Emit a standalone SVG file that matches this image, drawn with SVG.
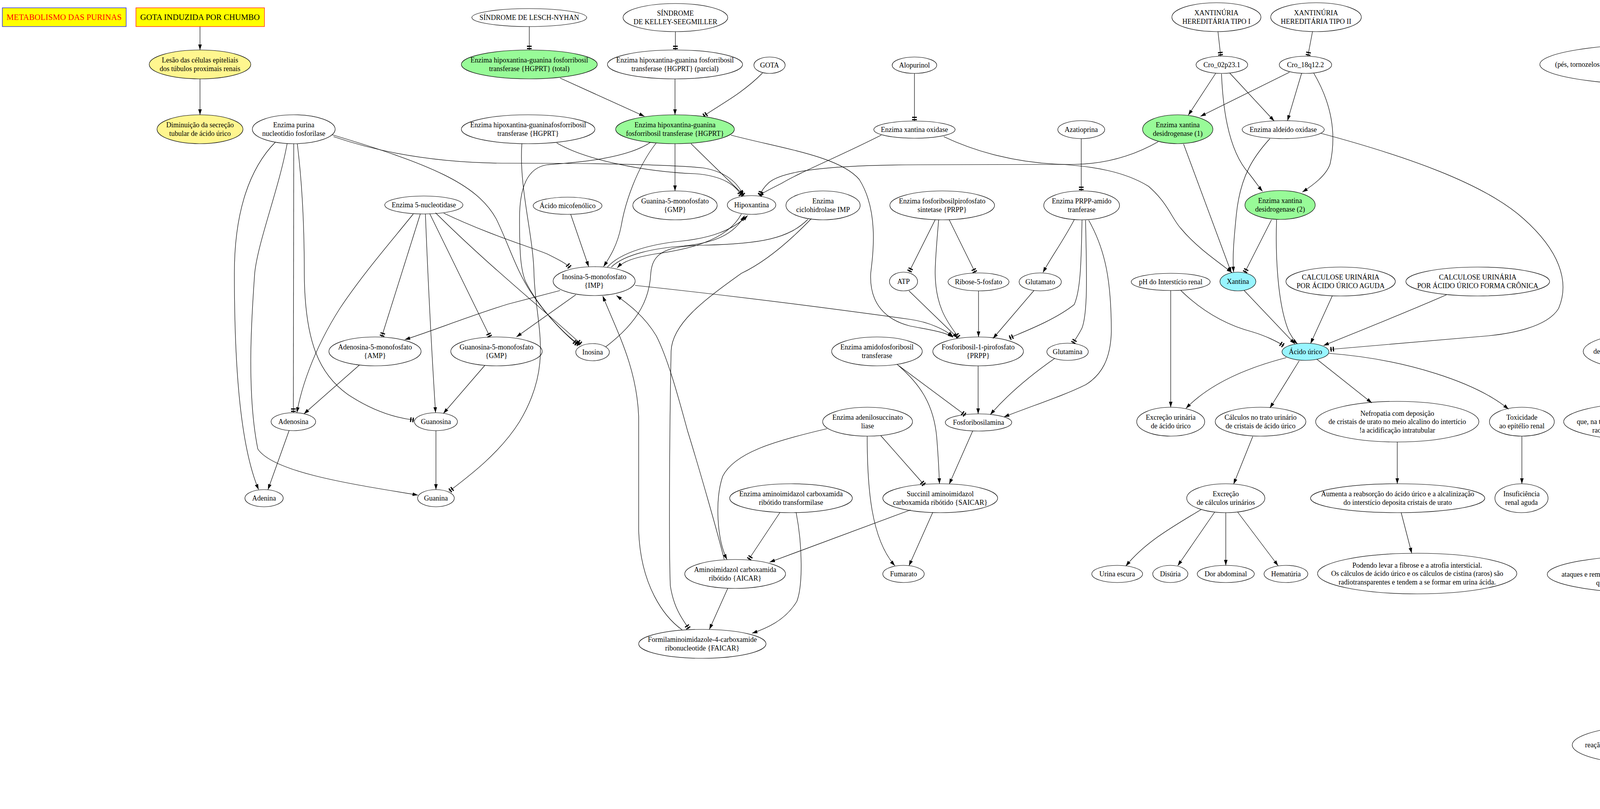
<svg xmlns="http://www.w3.org/2000/svg" width="7625" height="2072" viewBox="0 0 7625 2072">
<style>
text{font-family:"Liberation Serif","Times New Roman",serif;font-size:18px;text-anchor:middle;fill:#000}
ellipse{fill:none;stroke:#000;stroke-width:1.2}
ellipse.k{fill:#FFF68F}
ellipse.g{fill:#98FB98}
ellipse.c{fill:#98F5FF}
#edges path{fill:none;stroke:#000;stroke-width:1.2}
.a{marker-end:url(#arr)}
.t{marker-end:url(#tee)}
.box{font-size:21px}
</style>
<defs>
<marker id="arr" markerUnits="userSpaceOnUse" markerWidth="14" markerHeight="10" refX="14" refY="5" orient="auto"><path d="M0,0.5 L14,5 L0,9.5 z" fill="#000"/></marker>
<marker id="tee" markerUnits="userSpaceOnUse" markerWidth="12" markerHeight="14" refX="12" refY="7" orient="auto"><path d="M1,1 h3 v12 h-3 z M7,1 h3 v12 h-3 z" fill="#000"/></marker>
</defs>
<rect width="7625" height="2072" fill="#fff"/>
<g id="edges">
<path class="a" d="M512,68 L512,128"/>
<path class="a" d="M512,202 L512,294"/>
<path class="a" d="M705,364 C640,430 600,540 600,700 C600,900 610,1130 662,1254"/>
<path class="a" d="M735,368 C715,480 660,620 652,700 C645,800 630,1000 660,1150 C700,1210 900,1240 1070,1268"/>
<path class="t" d="M752,368 L751,1057"/>
<path class="t" d="M761,368 C775,480 779,600 779,700 C780,880 820,960 890,1010 C950,1050 1010,1070 1061,1076"/>
<path class="a" d="M854,350 C1000,400 1150,418 1300,418 C1500,418 1700,420 1800,430 C1860,440 1890,470 1903,501"/>
<path class="t" d="M850,345 C1100,420 1220,470 1270,560 C1300,620 1320,690 1360,750 C1400,810 1450,860 1483,883"/>
<path class="a" d="M1058,548 C1000,620 930,700 870,790 C800,900 770,1000 760,1057"/>
<path class="t" d="M1076,548 L977,863"/>
<path class="a" d="M1089,548 C1095,700 1105,900 1115,1057"/>
<path class="t" d="M1100,547 L1255,864"/>
<path class="t" d="M1115,545 C1250,680 1400,800 1488,882"/>
<path class="t" d="M1136,546 C1250,600 1350,630 1400,650 C1430,665 1450,675 1460,686"/>
<path class="a" d="M1434,744 L1300,779 C1200,810 1100,850 1036,870"/>
<path class="a" d="M1474,755 L1322,863"/>
<path class="a" d="M920,935 L778,1060"/>
<path class="a" d="M1241,936 L1135,1059"/>
<path class="a" d="M740,1103 L686,1254"/>
<path class="a" d="M1116,1103 L1116,1254"/>
<path class="t" d="M1336,368 C1328,480 1365,600 1367,700 C1370,830 1420,930 1330,1080 C1280,1160 1200,1220 1150,1258"/>
<path class="t" d="M1425,366 C1500,410 1650,440 1780,445 C1850,450 1885,475 1898,502"/>
<path class="t" d="M1666,364 C1600,410 1450,418 1400,422 C1350,430 1330,480 1330,560 C1330,650 1333,690 1345,720 C1380,790 1440,850 1478,882"/>
<path class="t" d="M1355,68 L1355,128"/>
<path class="t" d="M1729,81 L1729,128"/>
<path class="a" d="M1434,200 L1650,298"/>
<path class="a" d="M1728,202 L1728,294"/>
<path class="t" d="M1952,187 C1900,240 1840,270 1800,298"/>
<path class="a" d="M1728,368 L1728,489"/>
<path class="t" d="M1769,368 L1905,501"/>
<path class="a" d="M1680,366 C1630,430 1600,520 1590,580 C1580,630 1560,660 1545,683"/>
<path class="a" d="M1871,346 C2000,380 2150,400 2200,460 C2250,540 2235,650 2229,700 C2225,780 2270,820 2330,835 C2380,845 2420,850 2440,864"/>
<path class="a" d="M1461,549 L1507,683"/>
<path class="a" d="M1898,548 C1860,620 1750,640 1680,650 C1620,660 1595,670 1580,686"/>
<path class="a" d="M1565,684 C1600,650 1680,635 1750,630 C1830,622 1880,600 1906,552"/>
<path class="a" d="M1555,684 C1590,645 1670,625 1740,618 C1820,610 1875,590 1914,552"/>
<path d="M2068,562 C2020,610 1950,625 1800,628 C1700,630 1670,650 1666,700 C1663,760 1640,820 1551,888"/>
<path class="t" d="M2077,560 C2000,640 1940,680 1898,700 C1800,770 1720,830 1718,900 C1714,1100 1712,1400 1716,1500 C1725,1560 1750,1590 1764,1611"/>
<path class="t" d="M2256,346 C2150,400 2050,440 2000,470 C1970,485 1950,495 1943,501"/>
<path class="a" d="M2416,350 C2500,390 2600,415 2700,420 C2800,425 2880,440 2940,477 C2990,520 3000,560 3023,585 C3060,630 3110,665 3154,698"/>
<path class="t" d="M2965,363 C2900,400 2830,420 2750,421 L2350,422 C2100,423 2000,440 1968,468 C1955,480 1948,492 1945,501"/>
<path class="a" d="M3030,369 L3152,698"/>
<path class="t" d="M3255,563 L3186,699"/>
<path class="a" d="M3251,355 C3210,400 3175,450 3165,550 C3158,620 3155,660 3158,697"/>
<path class="t" d="M3380,341 C3600,400 3800,470 3900,560 C3990,640 4020,720 3990,790 C3960,840 3860,855 3811,860 L3404,895"/>
<path class="a" d="M3112,188 L3042,295"/>
<path class="a" d="M3148,187 L3262,310"/>
<path class="a" d="M3127,189 C3130,260 3140,380 3197,444 C3210,460 3222,478 3232,490"/>
<path class="a" d="M3301,185 L3073,298"/>
<path class="a" d="M3332,188 L3296,309"/>
<path class="a" d="M3363,187 C3400,250 3425,330 3405,420 C3395,450 3360,475 3334,492"/>
<path class="t" d="M3118,81 L3125,144"/>
<path class="t" d="M3360,81 L3348,144"/>
<path class="a" d="M3185,744 L3315,881"/>
<path class="a" d="M3268,563 C3265,650 3270,780 3300,850 C3310,868 3316,876 3322,881"/>
<path class="a" d="M3411,757 L3355,880"/>
<path class="a" d="M3703,755 C3600,800 3500,840 3388,885"/>
<path class="a" d="M2997,744 L2997,1043"/>
<path class="t" d="M3023,744 C3070,790 3130,830 3206,850 C3240,860 3270,875 3287,886"/>
<path class="a" d="M3293,916 C3200,940 3100,980 3036,1046"/>
<path class="a" d="M3326,924 L3251,1045"/>
<path class="a" d="M3371,920 L3512,1032"/>
<path class="a" d="M3402,905 C3600,920 3780,980 3862,1048"/>
<path class="a" d="M3207,1118 L3158,1240"/>
<path class="a" d="M3075,1305 C3000,1350 2930,1390 2882,1450"/>
<path class="a" d="M3110,1311 L3015,1449"/>
<path class="a" d="M3138,1313 L3138,1448"/>
<path class="a" d="M3168,1311 L3272,1449"/>
<path class="a" d="M3577,1132 L3577,1239"/>
<path class="a" d="M3587,1313 L3614,1417"/>
<path class="a" d="M3896,1117 L3896,1239"/>
<path class="t" d="M2341,188 L2341,310"/>
<path class="t" d="M2768,355 L2768,489"/>
<path class="a" d="M2750,563 C2720,620 2690,660 2670,698"/>
<path class="t" d="M2770,563 C2768,650 2768,740 2750,780 C2700,820 2620,850 2583,866"/>
<path class="t" d="M2779,564 C2782,700 2785,800 2770,840 C2760,860 2752,870 2746,880"/>
<path class="a" d="M2787,564 C2830,640 2845,720 2845,850 C2843,920 2820,960 2780,985 C2720,1015 2640,1040 2570,1068"/>
<path class="a" d="M2700,918 C2640,960 2580,1010 2535,1062"/>
<path class="a" d="M2327,745 L2452,866"/>
<path class="a" d="M2505,745 L2505,863"/>
<path class="a" d="M2647,744 L2542,867"/>
<path class="t" d="M2403,563 C2398,620 2394,680 2394,700 C2395,780 2420,820 2455,865"/>
<path class="t" d="M2394,563 L2327,697"/>
<path class="t" d="M2430,563 L2497,699"/>
<path class="a" d="M2504,937 L2504,1060"/>
<path class="t" d="M2296,933 L2472,1064"/>
<path class="a" d="M2300,936 C2350,980 2390,1030 2398,1120 C2402,1170 2404,1210 2405,1239"/>
<path class="a" d="M2490,1104 L2430,1240"/>
<path class="t" d="M2255,1116 L2367,1243"/>
<path class="a" d="M2220,1117 C2220,1250 2230,1380 2291,1449"/>
<path class="a" d="M2117,1098 C1980,1130 1880,1160 1850,1220 C1830,1280 1835,1380 1861,1433"/>
<path class="a" d="M2331,1306 L1970,1440"/>
<path class="a" d="M2388,1312 L2327,1449"/>
<path class="t" d="M1997,1312 L1916,1434"/>
<path class="a" d="M2038,1312 C2055,1400 2055,1500 2040,1540 C2010,1590 1960,1610 1925,1622"/>
<path class="a" d="M1863,1507 L1816,1612"/>
<path class="a" d="M1746,1613 C1700,1580 1640,1500 1635,1360 L1635,1067 C1630,940 1580,850 1543,758"/>
<path class="a" d="M1854,1433 C1836,1360 1790,1200 1760,1103 C1740,1030 1711,920 1680,860 C1650,810 1610,780 1578,757"/>
<path class="a" d="M1626,731 C1900,760 2200,800 2330,818 C2380,825 2420,845 2440,862"/>
<path class="a" d="M4268,81 L4268,112"/>
<path class="a" d="M4268,218 L4268,292"/>
<path class="a" d="M4268,368 L4268,489"/>
<path class="a" d="M4268,563 L4268,683"/>
<path class="a" d="M4268,757 L4268,847"/>
<path class="a" d="M4268,953 L4268,1028"/>
<path class="a" d="M4268,1132 L4268,1240"/>
<path class="a" d="M4268,1314 L4268,1421"/>
<path class="a" d="M4268,1521 L4268,1612"/>
<path class="a" d="M4268,1686 L4268,1749"/>
<path class="a" d="M4268,1823 L4268,1855"/>
<path class="a" d="M4268,1961 L4268,1997"/>
<path class="a" d="M5557,66 L5557,113"/>
<path class="a" d="M5557,217 L5557,248"/>
<path class="a" d="M5557,414 L5557,444"/>
<path class="a" d="M5557,608 L5557,638"/>
<path class="a" d="M5557,802 L5557,833"/>
<path class="a" d="M5557,967 L5557,998"/>
<path class="a" d="M5557,1162 L5557,1193"/>
<path class="a" d="M5557,1359 L5557,1387"/>
<path class="a" d="M5557,1553 L5557,1582"/>
<path class="a" d="M6341,68 L6341,143"/>
<path class="a" d="M6339,189 L6332,311"/>
<path class="a" d="M6315,354 L6222,505"/>
<path class="a" d="M6330,355 L6330,505"/>
<path class="t" d="M6117,203 L6120,311"/>
<path class="t" d="M6131,354 L6190,506"/>
<path class="a" d="M6124,355 L6158,700"/>
<path class="a" d="M6195,549 L6168,700"/>
<path class="a" d="M6620,68 L6620,129"/>
<path class="a" d="M6620,203 L6620,294"/>
<path class="a" d="M6620,368 L6620,489"/>
<path class="a" d="M6620,563 L6620,684"/>
<path class="t" d="M6913,68 L6913,129"/>
<path class="a" d="M7340,67 L7266,130"/>
<path class="a" d="M7397,67 L7476,131"/>
</g>
<g id="n_metab"><rect x="6" y="20" width="317" height="48" fill="#FFFF00" stroke="#0000FF" stroke-width="1.2"/><text class="box" x="164" y="51" style="fill:#FF0000">METABOLISMO DAS PURINAS</text></g>
<g id="n_chumbo"><rect x="348" y="20" width="329" height="48" fill="#FFFF00" stroke="#FF0000" stroke-width="1.2"/><text class="box" x="512" y="51">GOTA INDUZIDA POR CHUMBO</text></g>
<g id="n_lesao"><ellipse class="k" cx="512" cy="165" rx="130" ry="37"/><text x="512" y="160">Lesão das células epiteliais</text><text x="512" y="182">dos túbulos proximais renais</text></g>
<g id="n_dimin"><ellipse class="k" cx="512" cy="331" rx="110" ry="37"/><text x="512" y="326">Diminuição da secreção</text><text x="512" y="348">tubular de ácido úrico</text></g>
<g id="n_pnp"><ellipse cx="752" cy="331" rx="106" ry="37"/><text x="752" y="326">Enzima purina</text><text x="752" y="348">nucleotídio fosforilase</text></g>
<g id="n_lesch"><ellipse cx="1355" cy="45" rx="147" ry="23"/><text x="1355" y="51">SÍNDROME DE LESCH-NYHAN</text></g>
<g id="n_kelley"><ellipse cx="1729" cy="45" rx="134" ry="36"/><text x="1729" y="40">SÍNDROME</text><text x="1729" y="62">DE KELLEY-SEEGMILLER</text></g>
<g id="n_hgtot"><ellipse class="g" cx="1355" cy="165" rx="174" ry="37"/><text x="1355" y="160">Enzima hipoxantina-guanina fosforribosil</text><text x="1355" y="182">transferase {HGPRT} (total)</text></g>
<g id="n_hgpar"><ellipse cx="1728" cy="165" rx="173" ry="37"/><text x="1728" y="160">Enzima hipoxantina-guanina fosforribosil</text><text x="1728" y="182">transferase {HGPRT} (parcial)</text></g>
<g id="n_gota"><ellipse cx="1970" cy="167" rx="40" ry="21"/><text x="1970" y="173">GOTA</text></g>
<g id="n_hgw"><ellipse cx="1352" cy="331" rx="171" ry="37"/><text x="1352" y="326">Enzima hipoxantina-guaninafosforribosil</text><text x="1352" y="348">transferase {HGPRT}</text></g>
<g id="n_hgg"><ellipse class="g" cx="1728" cy="331" rx="152" ry="37"/><text x="1728" y="326">Enzima hipoxantina-guanina</text><text x="1728" y="348">fosforribosil transferase {HGPRT}</text></g>
<g id="n_alop"><ellipse cx="2341" cy="167" rx="57" ry="21"/><text x="2341" y="173">Alopurinol</text></g>
<g id="n_xo"><ellipse cx="2341" cy="332" rx="104" ry="22"/><text x="2341" y="338">Enzima xantina oxidase</text></g>
<g id="n_nt5"><ellipse cx="1085" cy="525" rx="100" ry="23"/><text x="1085" y="531">Enzima 5-nucleotidase</text></g>
<g id="n_micof"><ellipse cx="1453" cy="527" rx="88" ry="22"/><text x="1453" y="533">Ácido micofenólico</text></g>
<g id="n_gmp2"><ellipse cx="1728" cy="526" rx="108" ry="37"/><text x="1728" y="521">Guanina-5-monofosfato</text><text x="1728" y="543">{GMP}</text></g>
<g id="n_hipo"><ellipse cx="1924" cy="525" rx="62" ry="24"/><text x="1924" y="531">Hipoxantina</text></g>
<g id="n_ciclo"><ellipse cx="2107" cy="526" rx="95" ry="37"/><text x="2107" y="521">Enzima</text><text x="2107" y="543">ciclohidrolase IMP</text></g>
<g id="n_prpps"><ellipse cx="2412" cy="526" rx="134" ry="37"/><text x="2412" y="521">Enzima fosforibosilpirofosfato</text><text x="2412" y="543">sintetase {PRPP}</text></g>
<g id="n_prppa"><ellipse cx="2769" cy="526" rx="97" ry="37"/><text x="2769" y="521">Enzima PRPP-amido</text><text x="2769" y="543">tranferase</text></g>
<g id="n_azat"><ellipse cx="2768" cy="332" rx="60" ry="23"/><text x="2768" y="338">Azatioprina</text></g>
<g id="n_imp"><ellipse cx="1521" cy="720" rx="105" ry="37"/><text x="1521" y="715">Inosina-5-monofosfato</text><text x="1521" y="737">{IMP}</text></g>
<g id="n_atp"><ellipse cx="2313" cy="721" rx="36" ry="24"/><text x="2313" y="727">ATP</text></g>
<g id="n_rib"><ellipse cx="2505" cy="722" rx="78" ry="23"/><text x="2505" y="728">Ribose-5-fosfato</text></g>
<g id="n_glt"><ellipse cx="2663" cy="722" rx="54" ry="23"/><text x="2663" y="728">Glutamato</text></g>
<g id="n_amp"><ellipse cx="960" cy="900" rx="118" ry="37"/><text x="960" y="895">Adenosina-5-monofosfato</text><text x="960" y="917">{AMP}</text></g>
<g id="n_gmp"><ellipse cx="1271" cy="900" rx="117" ry="37"/><text x="1271" y="895">Guanosina-5-monofosfato</text><text x="1271" y="917">{GMP}</text></g>
<g id="n_ino"><ellipse cx="1517" cy="902" rx="43" ry="22"/><text x="1517" y="908">Inosina</text></g>
<g id="n_amido"><ellipse cx="2245" cy="900" rx="116" ry="37"/><text x="2245" y="895">Enzima amidofosforibosil</text><text x="2245" y="917">transferase</text></g>
<g id="n_prpp"><ellipse cx="2504" cy="900" rx="116" ry="37"/><text x="2504" y="895">Fosforibosil-1-pirofosfato</text><text x="2504" y="917">{PRPP}</text></g>
<g id="n_glm"><ellipse cx="2733" cy="901" rx="53" ry="22"/><text x="2733" y="907">Glutamina</text></g>
<g id="n_adeo"><ellipse cx="751" cy="1080" rx="57" ry="23"/><text x="751" y="1086">Adenosina</text></g>
<g id="n_guao"><ellipse cx="1116" cy="1080" rx="55" ry="23"/><text x="1116" y="1086">Guanosina</text></g>
<g id="n_adsl"><ellipse cx="2221" cy="1080" rx="115" ry="37"/><text x="2221" y="1075">Enzima adenilosuccinato</text><text x="2221" y="1097">liase</text></g>
<g id="n_pra"><ellipse cx="2505" cy="1082" rx="85" ry="22"/><text x="2505" y="1088">Fosforibosilamina</text></g>
<g id="n_adea"><ellipse cx="676" cy="1276" rx="49" ry="22"/><text x="676" y="1282">Adenina</text></g>
<g id="n_guaa"><ellipse cx="1116" cy="1276" rx="47" ry="22"/><text x="1116" y="1282">Guanina</text></g>
<g id="n_atic"><ellipse cx="2025" cy="1276" rx="157" ry="37"/><text x="2025" y="1271">Enzima aminoimidazol carboxamida</text><text x="2025" y="1293">ribótido transformilase</text></g>
<g id="n_saicar"><ellipse cx="2407" cy="1276" rx="147" ry="37"/><text x="2407" y="1271">Succinil aminoimidazol</text><text x="2407" y="1293">carboxamida ribótido {SAICAR}</text></g>
<g id="n_aicar"><ellipse cx="1882" cy="1470" rx="129" ry="37"/><text x="1882" y="1465">Aminoimidazol carboxamida</text><text x="1882" y="1487">ribótido {AICAR}</text></g>
<g id="n_fum"><ellipse cx="2313" cy="1470" rx="53" ry="22"/><text x="2313" y="1476">Fumarato</text></g>
<g id="n_faicar"><ellipse cx="1798" cy="1649" rx="163" ry="37"/><text x="1798" y="1644">Formilaminoimidazole-4-carboxamide</text><text x="1798" y="1666">ribonucleotide {FAICAR}</text></g>
<g id="n_xan1"><ellipse cx="3114" cy="44" rx="114" ry="37"/><text x="3114" y="39">XANTINÚRIA</text><text x="3114" y="61">HEREDITÁRIA TIPO I</text></g>
<g id="n_xan2"><ellipse cx="3369" cy="44" rx="116" ry="37"/><text x="3369" y="39">XANTINÚRIA</text><text x="3369" y="61">HEREDITÁRIA TIPO II</text></g>
<g id="n_cro1"><ellipse cx="3128" cy="166" rx="66" ry="22"/><text x="3128" y="172">Cro_02p23.1</text></g>
<g id="n_cro2"><ellipse cx="3342" cy="166" rx="67" ry="22"/><text x="3342" y="172">Cro_18q12.2</text></g>
<g id="n_xdh1"><ellipse class="g" cx="3015" cy="331" rx="90" ry="37"/><text x="3015" y="326">Enzima xantina</text><text x="3015" y="348">desidrogenase (1)</text></g>
<g id="n_ao"><ellipse cx="3285" cy="332" rx="105" ry="23"/><text x="3285" y="338">Enzima aldeído oxidase</text></g>
<g id="n_xdh2"><ellipse class="g" cx="3277" cy="525" rx="90" ry="37"/><text x="3277" y="520">Enzima xantina</text><text x="3277" y="542">desidrogenase (2)</text></g>
<g id="n_xant"><ellipse class="c" cx="3169" cy="721" rx="46" ry="24"/><text x="3169" y="727">Xantina</text></g>
<g id="n_ph"><ellipse cx="2997" cy="722" rx="101" ry="22"/><text x="2997" y="728">pH do Interstício renal</text></g>
<g id="n_calc1"><ellipse cx="3432" cy="721" rx="140" ry="37"/><text x="3432" y="716">CALCULOSE URINÁRIA</text><text x="3432" y="738">POR ÁCIDO ÚRICO AGUDA</text></g>
<g id="n_calc2"><ellipse cx="3783" cy="721" rx="184" ry="37"/><text x="3783" y="716">CALCULOSE URINÁRIA</text><text x="3783" y="738">POR ÁCIDO ÚRICO FORMA CRÔNICA</text></g>
<g id="n_au"><ellipse class="c" cx="3342" cy="901" rx="60" ry="22"/><text x="3342" y="907">Ácido úrico</text></g>
<g id="n_exu"><ellipse cx="2997" cy="1080" rx="87" ry="37"/><text x="2997" y="1075">Excreção urinária</text><text x="2997" y="1097">de ácido úrico</text></g>
<g id="n_calt"><ellipse cx="3227" cy="1080" rx="116" ry="37"/><text x="3227" y="1075">Cálculos no trato urinário</text><text x="3227" y="1097">de cristais de ácido úrico</text></g>
<g id="n_nef"><ellipse cx="3577" cy="1080" rx="209" ry="52"/><text x="3577" y="1064.5">Nefropatia com deposição</text><text x="3577" y="1086">de cristais de urato no meio alcalino do intertício</text><text x="3577" y="1107.5">!a acidificação intratubular</text></g>
<g id="n_tox"><ellipse cx="3896" cy="1080" rx="83" ry="37"/><text x="3896" y="1075">Toxicidade</text><text x="3896" y="1097">ao epitélio renal</text></g>
<g id="n_exc"><ellipse cx="3138" cy="1276" rx="100" ry="37"/><text x="3138" y="1271">Excreção</text><text x="3138" y="1293">de cálculos urinários</text></g>
<g id="n_aum"><ellipse cx="3578" cy="1276" rx="223" ry="37"/><text x="3578" y="1271">Aumenta a reabsorção do ácido úrico e a alcalinização</text><text x="3578" y="1293">do interstício deposita cristais de urato</text></g>
<g id="n_ins"><ellipse cx="3895" cy="1276" rx="68" ry="37"/><text x="3895" y="1271">Insuficiência</text><text x="3895" y="1293">renal aguda</text></g>
<g id="n_uri"><ellipse cx="2860" cy="1470" rx="65" ry="22"/><text x="2860" y="1476">Urina escura</text></g>
<g id="n_dis"><ellipse cx="2996" cy="1470" rx="45" ry="22"/><text x="2996" y="1476">Disúria</text></g>
<g id="n_dor"><ellipse cx="3138" cy="1470" rx="73" ry="22"/><text x="3138" y="1476">Dor abdominal</text></g>
<g id="n_hem"><ellipse cx="3292" cy="1470" rx="56" ry="22"/><text x="3292" y="1476">Hematúria</text></g>
<g id="n_pod"><ellipse cx="3628" cy="1469" rx="255" ry="52"/><text x="3628" y="1453.5">Podendo levar a fibrose e a atrofia intersticial.</text><text x="3628" y="1475">Os cálculos de ácido úrico e os cálculos de cistina (raros) são</text><text x="3628" y="1496.5">radiotransparentes e tendem a se formar em urina ácida.</text></g>
<g id="n_hg2"><ellipse cx="4268" cy="45" rx="151" ry="36"/><text x="4268" y="40">Enzima hipoxantina-guanina</text><text x="4268" y="62">fosforribosiltransferase {HGPRT}</text></g>
<g id="n_hapref"><ellipse cx="4268" cy="165" rx="326" ry="53"/><text x="4268" y="149.5">Há preferência por articulações distais</text><text x="4268" y="171">(pés, tornozelos, joelhos, mãos, punhos, cotovelos) devido à menor temperatura</text><text x="4268" y="192.5">destas (facilita precipitação dos cristais)</text></g>
<g id="n_depos"><ellipse cx="4268" cy="330" rx="128" ry="38"/><text x="4268" y="325">Depósitos tofáceos</text><text x="4268" y="347">de cristais de urato de sódio</text></g>
<g id="n_reac"><ellipse cx="4268" cy="526" rx="98" ry="37"/><text x="4268" y="521">Reação inflamatória</text><text x="4268" y="543">granulomatosa</text></g>
<g id="n_destr"><ellipse cx="4268" cy="720" rx="110" ry="37"/><text x="4268" y="715">Destruição</text><text x="4268" y="737">e deformidade articular</text></g>
<g id="n_precip"><ellipse cx="4268" cy="900" rx="215" ry="53"/><text x="4268" y="884.5">Precipitação de cristais</text><text x="4268" y="906">de urato no líquido sinovial e tecidos periarticulares,</text><text x="4268" y="927.5">na vigência de hiperuricemia</text></g>
<g id="n_cristais"><ellipse cx="4268" cy="1080" rx="265" ry="52"/><text x="4268" y="1064.5">Os cristais provocam afluxo de neutrófilos</text><text x="4268" y="1086">que, na tentativa de fagocitá-los, liberam enzimas proteolíticas e</text><text x="4268" y="1107.5">radicais livres, dando origem aos sinais inflamatórios</text></g>
<g id="n_tambem"><ellipse cx="4268" cy="1277" rx="98" ry="37"/><text x="4268" y="1272">Também há ativação</text><text x="4268" y="1294">do complemento</text></g>
<g id="n_nagota"><ellipse cx="4268" cy="1471" rx="307" ry="50"/><text x="4268" y="1455.5">Na gota crônica, com o tempo, após vários</text><text x="4268" y="1477">ataques e remissões, vão-se formando depósitos de uratos, chamados tofos,</text><text x="4268" y="1498.5">que não são acompanhados de sinais inflamatórios</text></g>
<g id="n_grad"><ellipse cx="4268" cy="1649" rx="170" ry="37"/><text x="4268" y="1644">Gradualmente vão lesando as superfícies</text><text x="4268" y="1666">articulares, dando dor e rigidez</text></g>
<g id="n_artic"><ellipse cx="4268" cy="1786" rx="165" ry="37"/><text x="4268" y="1781">As articulações mais acometidas</text><text x="4268" y="1803">são as distais, e a cartilagem auricular</text></g>
<g id="n_micro"><ellipse cx="4268" cy="1908" rx="243" ry="53"/><text x="4268" y="1892.5">Microscopicamente, observa-se</text><text x="4268" y="1914">reação inflamatória crônica inespecífica ou granulomatosa</text><text x="4268" y="1935.5">(com presença de células gigantes)</text></g>
<g id="n_forte"><ellipse cx="4268" cy="2034" rx="166" ry="37"/><text x="4268" y="2029">Há forte tendência ao desenvolvimento</text><text x="4268" y="2051">de cálculos renais.</text></g>
<g id="n_gid"><ellipse cx="5557" cy="45" rx="97" ry="21"/><text x="5557" y="51">GOTA IDIOPÁTICA</text></g>
<g id="n_hiper"><ellipse cx="5557" cy="165" rx="229" ry="52"/><text x="5557" y="149.5">Hiperuricemia. Hipertensão.</text><text x="5557" y="171">Nefroesclerose. Tofos. Pielonefrite. Diabetes mellitus.</text><text x="5557" y="192.5">Hipertrigliceridemia. Aterosclerose</text></g>
<g id="n_ativ"><ellipse cx="5557" cy="331" rx="441" ry="83"/><text x="5557" y="294">Ativação de neutrófilos por cristais de urato. O ácido úrico resulta do catabolismo</text><text x="5557" y="315.5">das purinas (adenina e guanina), e é a única via de excreção das mesmas, que se dá pela urina.</text><text x="5557" y="337">As purinas necessárias à síntese de ácidos nucleicos (DNA e RNA) são produzidas no organismo. As purinas</text><text x="5557" y="358.5">ingeridas não são incorporadas a ácidos nucleicos. São convertidas a ácido úrico por enzimas da</text><text x="5557" y="380">mucosa intestinal e do fígado e também excretadas na urina</text></g>
<g id="n_grande"><ellipse cx="5557" cy="526" rx="421" ry="82"/><text x="5557" y="489">Grande parte das purinas resultantes da degradação do DNA endógeno são reaproveitadas</text><text x="5557" y="510.5">para síntese de novos nucleotídeos. A falta geneticamente condicionada da enzima hipoxantina-guanina</text><text x="5557" y="532">fosforibosil transferase causa grande catabolismo dos nucleotídeos, que não podem ser reutilizados, Isto</text><text x="5557" y="553.5">resulta em  forte hiperuricemia e caracteriza a síndrome de Lesch-Nyhan (retardo mental, coreoatetose,</text><text x="5557" y="575">tendência a automutilação).  É uma causa rara de hiperuricemia</text></g>
<g id="n_purinas"><ellipse cx="5557" cy="720" rx="457" ry="82"/><text x="5557" y="683">PURINAS NA DIETA. Dietas ricas em purinas aumentam transitoriamente o nível sanguíneo</text><text x="5557" y="704.5">de ácido úrico ou urato de sódio, ou seja a uricemia, e aumentam a excreção renal de uratos, ou seja, a uricosúria.</text><text x="5557" y="726">Dietas ricas em purinas incluem alimentos ricos em núcleos celulares: carnes, vísceras (p.ex. fígado), crustáceos</text><text x="5557" y="747.5">(camarão) e bebidas fermentadas. A cerveja é rica em purinas porque contém leveduras, usadas na fermentação.</text><text x="5557" y="769">Exemplos de alimentos pobres em purinas: queijo, leite, ovos</text></g>
<g id="n_uric"><ellipse cx="5557" cy="900" rx="413" ry="67"/><text x="5557" y="873.75">URICEMIA NORMAL. A uricemia resulta de um equilíbrio entre a ingesta + produção</text><text x="5557" y="895.25">endógena de purinas, e a excreção urinária de uratos. A uricemia normal é da ordem de 5,0 mg / 100</text><text x="5557" y="916.75">mL em homens e 4,1 mg / 100 mL em mulheres, e relativamente estável, variando pouco com a ingesta.</text><text x="5557" y="938.25">Isto porque, aumentando a ingesta, aumenta a excreção renal do ácido úrico</text></g>
<g id="n_sint"><ellipse cx="5557" cy="1080" rx="365" ry="82"/><text x="5557" y="1043">SÍNTESE ENDÓGENA DE PURINAS. A maneira mais prática de avaliar a síntese</text><text x="5557" y="1064.5">endógena de purinas é colocar o paciente em uma dieta pobre em purinas por cerca</text><text x="5557" y="1086">de 1 semana e medir a excreção urinária de uratos, porque então a excreção de purinas</text><text x="5557" y="1107.5">será igual à produção endógena. A excreção diária de uratos, neste caso, fica entre</text><text x="5557" y="1129">400-600 mg / 24 hs (1 g / 24 hs  com dieta normal)</text></g>
<g id="n_excr"><ellipse cx="5557" cy="1276" rx="430" ry="83"/><text x="5557" y="1239">EXCREÇÃO RENAL DE URATOS. A excreção renal de uratos compreende: 1)</text><text x="5557" y="1260.5">filtração glomerular, seguida de 2) reabsorção quase total, 3) secreção tubular e 4)</text><text x="5557" y="1282">reabsorção após a secreção.  No sexo masculino, a capacidade de excreção renal de uratos</text><text x="5557" y="1303.5">é da ordem de 8 a 10%, enquanto  no  sexo feminino é de 12 a 14%. Isto faz com</text><text x="5557" y="1325">que os homens tenham uricemia mais elevada que as mulheres</text></g>
<g id="n_precu"><ellipse cx="5557" cy="1470" rx="956" ry="83"/><text x="5557" y="1433">PRECIPITAÇÃO DE URATO NOS TECIDOS. A solubilidade de urato de sódio nos líquidos corporais é de cerca de 6,4 mg / 100 mL. Como a uricemia normal é da ordem de 5,0 mg/100 mL</text><text x="5557" y="1454.5">Em homens e 4,1 mg/100 mL. em mulheres, a margem de segurança é pequena e mais facilmente excedida no sexo masculino. A precipitação preferencial de cristais</text><text x="5557" y="1476">de uratos no líquido sinovial ocorre porque este é um mau solvente para os cristais se comparado ao plasma. A preferência por articulações distais explica-se pela</text><text x="5557" y="1497.5">urato de sódio aspirados do líquido sinovial em um caso de gota e examinados diretamente em luz polarizada. Outras doenças podem favorecer a precipitação de uratos.</text><text x="5557" y="1519">Infecções agudas, como pneumonias, aumentam a produção de leucócitos. Doenças como leucemias e linfomas também aumentam a produção de ácido úrico</text></g>
<g id="n_tofo"><ellipse cx="5557" cy="1649" rx="335" ry="67"/><text x="5557" y="1622.75">O tofo (manifestação da gota úrica crônica) é um depósito de</text><text x="5557" y="1644.25">cristais de urato de sódio no tecido conjuntivo subcutâneo, nos tendões</text><text x="5557" y="1665.75">ou na cartilagem auricular, de tamanho variável, comprometendo</text><text x="5557" y="1687.25">a cartilagem articular podendo levar à perda de função</text></g>
<g id="n_cis"><ellipse cx="6341" cy="46" rx="48" ry="22"/><text x="6341" y="52">Cisteína</text></g>
<g id="n_cissulf"><ellipse cx="6341" cy="166" rx="82" ry="23"/><text x="6341" y="172">Cisteína sulfinato</text></g>
<g id="n_xan3"><ellipse cx="6116" cy="166" rx="120" ry="37"/><text x="6116" y="161">XANTINÚRIA</text><text x="6116" y="183">HEREDITÁRIA TIPO III</text></g>
<g id="n_sulfox"><ellipse cx="6121" cy="333" rx="100" ry="22"/><text x="6121" y="339">Enzima sulfito oxidase</text></g>
<g id="n_sulfpir"><ellipse cx="6329" cy="333" rx="78" ry="22"/><text x="6329" y="339">Sulfinil piruvato</text></g>
<g id="n_sulfito"><ellipse cx="6200" cy="527" rx="41" ry="22"/><text x="6200" y="533">Sulfito</text></g>
<g id="n_piruv"><ellipse cx="6330" cy="527" rx="49" ry="22"/><text x="6330" y="533">Piruvato</text></g>
<g id="n_sulfato"><ellipse cx="6161" cy="722" rx="44" ry="22"/><text x="6161" y="728">Sulfato</text></g>
<g id="n_drogas"><ellipse cx="6620" cy="45" rx="148" ry="23"/><text x="6620" y="51">GOTA INDUZIDA POR DROGAS</text></g>
<g id="n_diur"><ellipse cx="6620" cy="166" rx="171" ry="37"/><text x="6620" y="161">Diuréticos. Ciclosporina.</text><text x="6620" y="183">Diatrizoato de meglumina. Uricosúricos</text></g>
<g id="n_morte"><ellipse cx="6620" cy="331" rx="150" ry="37"/><text x="6620" y="326">Morte das células leucêmicas.</text><text x="6620" y="348">Produção excessiva de ácido úrico</text></g>
<g id="n_depos2"><ellipse cx="6620" cy="526" rx="156" ry="37"/><text x="6620" y="521">Deposição de cristais em</text><text x="6620" y="543">forma de agulha no espaço articular</text></g>
<g id="n_resp"><ellipse cx="6620" cy="721" rx="89" ry="37"/><text x="6620" y="716">Resposta</text><text x="6620" y="738">inflamatória local</text></g>
<g id="n_nefrop"><ellipse cx="6913" cy="45" rx="120" ry="23"/><text x="6913" y="51">GOTA POR NEFROPATIA</text></g>
<g id="n_excren"><ellipse cx="6913" cy="166" rx="99" ry="37"/><text x="6913" y="161">Excreção</text><text x="6913" y="183">renal de ácido úrico</text></g>
<g id="n_phd"><ellipse cx="7367" cy="46" rx="74" ry="22"/><text x="7367" y="52">pH dependente</text></g>
<g id="n_acidez"><ellipse cx="7216" cy="166" rx="179" ry="37"/><text x="7216" y="161">Acidez tubular &gt; deposição de cristais</text><text x="7216" y="183">de ácido úrico em concentrações elevadas</text></g>
<g id="n_interst"><ellipse cx="7520" cy="166" rx="100" ry="37"/><text x="7520" y="161">Interstício alcalino</text><text x="7520" y="183">&gt; depósito de uratos</text></g>
<g id="sig"><text x="7464" y="2050" style="font-family:'DejaVu Sans Mono',monospace;font-size:14px;font-weight:bold;text-anchor:start">bioinfo.ufc.br</text><text x="7464" y="2064" style="font-family:'DejaVu Sans Mono',monospace;font-size:11.5px;font-weight:bold;text-anchor:start">Prof. Alberto M. Soares</text></g>
</svg>
